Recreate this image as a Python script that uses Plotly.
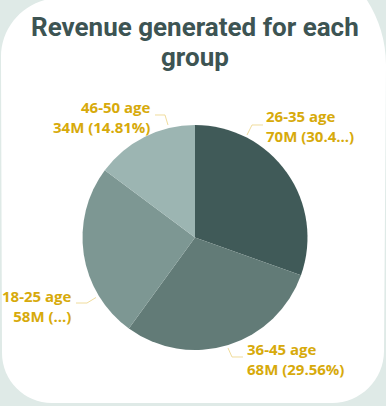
import plotly.graph_objects as go

# ---- data ----
groups = ["26-35 age", "36-45 age", "18-25 age", "46-50 age"]
revenue_m = [69.9, 67.87, 57.83, 34.0]          # revenue in millions
slice_colors = ["#405a58", "#627b77", "#7d9793", "#9cb5b2"]
visible_chars = [9, None, 5, None]              # truncation seen in the labels
title_lines = ["Revenue generated for each", "group"]

W, H = 386, 406
total = sum(revenue_m)


def px(x, y):
    return x / W, 1 - y / H


# label layout (pixel anchors) and leader lines
label_pos = [(266, 126.5, "left"), (246.5, 358.5, "left"), (72, 305.5, "right"), (151, 116.5, "right")]
leaders = [
    [(263, 125), (252, 125), (247, 135)],
    [(228, 348), (232, 357), (243, 357)],
    [(76, 303), (87, 303), (96, 297.5)],
    [(155, 115), (165, 115), (168, 125)],
]
title_y = [27, 57]

label_color = "#d7aa0b"
leader_color = "#f0dc9c"
title_color = "#3d5453"

fig = go.Figure()
fig.add_trace(go.Pie(
    labels=groups,
    values=revenue_m,
    sort=False,
    direction="clockwise",
    rotation=0,
    marker=dict(colors=slice_colors, line=dict(width=0)),
    textinfo="none",
    hoverinfo="label+value+percent",
    domain=dict(x=[(195 - 112.5) / W, (195 + 112.5) / W],
                y=[1 - 350 / H, 1 - 125 / H]),
    showlegend=False,
))


def card_path():
    def P(x, y):
        a, b = px(x, y)
        return f"{a:.5f},{b:.5f}"
    k1, k2, k3, k4 = 0.5523 * 59, 0.5523 * 120, 0.5523 * 52, 0.5523 * 50
    return (f"M {P(1,57)} C {P(1,57-k1)} {P(60-k1,-2)} {P(60,-2)} "
            f"L {P(266,-55)} C {P(266+k2,-55)} {P(386,65-k2)} {P(386,65)} "
            f"L {P(384,351)} C {P(384,351+k3)} {P(332+k3,403)} {P(332,403)} "
            f"L {P(52,403)} C {P(52-k4,403)} {P(2,353+k4)} {P(2,353)} Z")


shapes = [dict(type="path", xref="paper", yref="paper", path=card_path(),
               fillcolor="white", line=dict(width=0), layer="below")]
for seg in leaders:
    d = "M " + " L ".join("{:.5f},{:.5f}".format(*px(x, y)) for x, y in seg)
    shapes.append(dict(type="path", xref="paper", yref="paper", path=d,
                       line=dict(color=leader_color, width=1)))

annotations = []
for g, v, vc, (lx, ly, al) in zip(groups, revenue_m, visible_chars, label_pos):
    second = f"{v:.0f}M ({v / total * 100:.2f}%)"
    if vc is not None:
        second = second[:vc] + "...)"
    ax, ay = px(lx, ly)
    annotations.append(dict(
        x=ax, y=ay, xref="paper", yref="paper", xanchor=al, yanchor="middle",
        align=al, showarrow=False, borderpad=0, borderwidth=0,
        text=f"{g}<br>{second}",
        font=dict(family="Open Sans", size=15, color=label_color, weight=700),
    ))

for line, yy in zip(title_lines, title_y):
    tx, ty = px(195, yy)
    annotations.append(dict(
        x=tx, y=ty, xref="paper", yref="paper", xanchor="center", yanchor="middle",
        showarrow=False, borderpad=0, borderwidth=0, text=line,
        font=dict(family="Roboto", size=26, color=title_color, weight=700),
    ))

fig.update_layout(
    width=W, height=H,
    margin=dict(l=0, r=0, t=0, b=0),
    paper_bgcolor="#dfeae7",
    plot_bgcolor="rgba(0,0,0,0)",
    shapes=shapes,
    annotations=annotations,
)

fig.write_html("out.html",
               config={"displayModeBar": False},
               post_script="document.body.style.margin='0';document.body.style.overflow='hidden';")
